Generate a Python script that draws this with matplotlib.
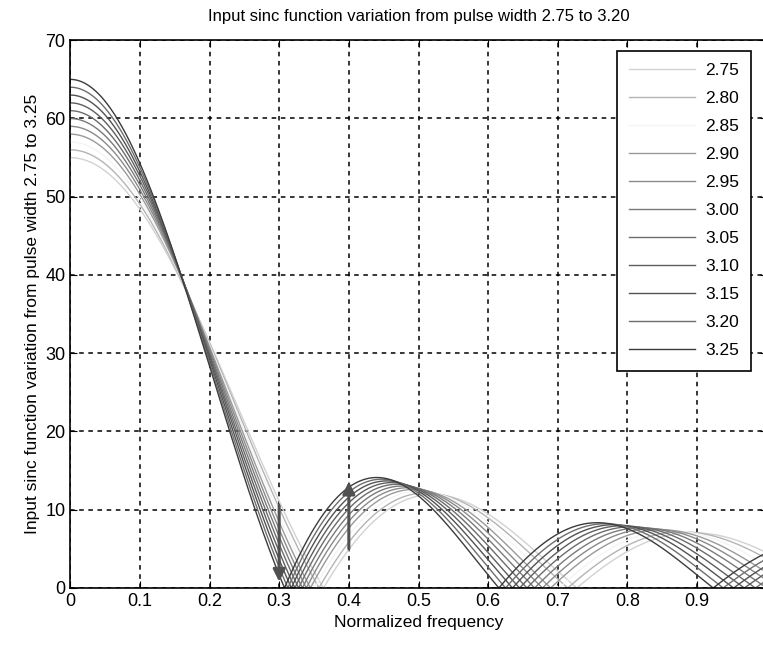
import numpy as np
import matplotlib
matplotlib.use("Agg")
import matplotlib.pyplot as plt

plt.rcParams['font.family'] = ['Liberation Sans Narrow', 'Liberation Sans', 'DejaVu Sans']

# pulse widths (legend) and line greys, light -> dark
pulse_width = [2.75, 2.80, 2.85, 2.90, 2.95, 3.00, 3.05, 3.10, 3.15, 3.20, 3.25]
labels = ['2.75', '2.80', '2.85', '2.90', '2.95', '3.00', '3.05', '3.10', '3.15', '3.20', '3.25']
greys = ['#d2d2d2', '#b4b4b4', '#f4f4f4', '#9a9a9a', '#8a8a8a', '#7a7a7a',
         '#6c6c6c', '#5e5e5e', '#525252', '#6e6e6e', '#3c3c3c']
amp_scale = 20.0  # peak = 20 * pulse width

# arrows (x, y_from, y_to)
arrows = [(0.3, 10.5, 0.8), (0.4, 5.0, 13.6)]

f = np.linspace(0, 1.02, 1200)

fig = plt.figure(figsize=(7.63, 6.49), dpi=100)
ax = fig.add_axes([0.092, 0.094, 0.913, 0.844])

for T, lab, c in zip(pulse_width, labels, greys):
    y = amp_scale * T * np.abs(np.sinc(f * T))
    ax.plot(f, y, color=c, lw=1.0, label=lab)

for x, y0, y1 in arrows:
    ax.annotate('', xy=(x, y1), xytext=(x, y0),
                arrowprops=dict(arrowstyle='-|>', color='#505050', lw=2.2,
                                mutation_scale=18, shrinkA=0, shrinkB=0))

ax.set_xlim(0, 1)
ax.set_ylim(0, 70)
ax.set_xticks(np.arange(0, 1.0, 0.1))
ax.set_xticklabels(['0', '0.1', '0.2', '0.3', '0.4', '0.5', '0.6', '0.7', '0.8', '0.9'])
ax.set_yticks(range(0, 71, 10))
ax.grid(True, color='black', linestyle=(0, (3, 3)), lw=1.1)
ax.tick_params(direction='in', top=True, right=True, labelsize=13, length=5)
for s in ax.spines.values():
    s.set_linewidth(1.2)

ax.set_title('Input sinc function variation from pulse width 2.75 to 3.20', fontsize=12, pad=14)
ax.set_xlabel('Normalized frequency', fontsize=12.5)
ax.set_ylabel('Input sinc function variation from pulse width 2.75 to 3.25', fontsize=12.5, labelpad=4)

leg = ax.legend(loc='upper right', bbox_to_anchor=(0.978, 0.98), fontsize=12.5,
                handlelength=3.8, labelspacing=0.74, frameon=True, fancybox=False,
                borderpad=0.7, handletextpad=0.6, borderaxespad=0)
leg.get_frame().set_edgecolor('black')
leg.get_frame().set_linewidth(1.2)
leg.get_frame().set_alpha(1)

fig.savefig('out.png', dpi=100)
